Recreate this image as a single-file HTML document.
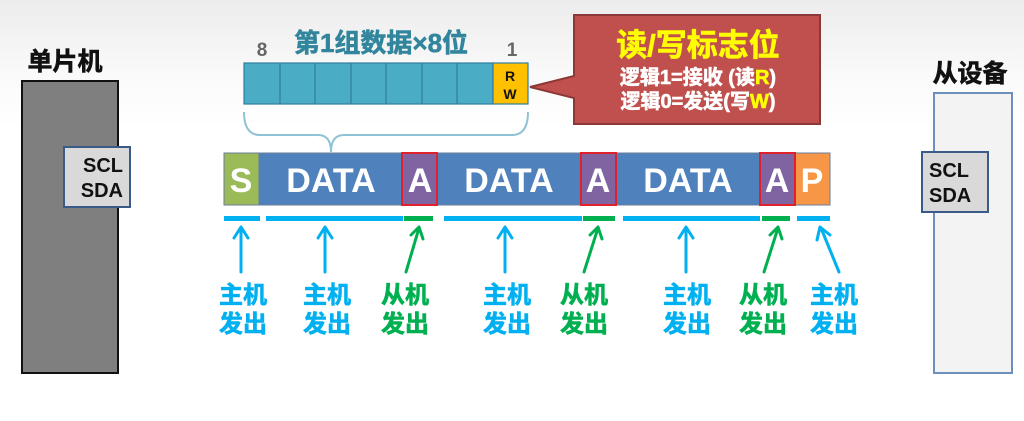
<!DOCTYPE html>
<html><head><meta charset="utf-8"><style>
html,body{margin:0;padding:0;background:#fff}
svg{display:block}
text{font-family:"Liberation Sans","Noto Sans CJK SC",sans-serif;font-weight:bold}
.b{stroke-width:0.6;paint-order:stroke}
</style></head><body>
<svg width="1024" height="421" viewBox="0 0 1024 421" xmlns="http://www.w3.org/2000/svg">
<defs>
<linearGradient id="bg" x1="0" y1="0" x2="0" y2="1">
<stop offset="0" stop-color="#ececec"/><stop offset="0.18" stop-color="#fafafa"/><stop offset="0.3" stop-color="#fff"/>
</linearGradient>
</defs>
<rect width="1024" height="421" fill="url(#bg)"/>
<!-- left device -->
<text class="b" x="65" y="70" font-size="25" text-anchor="middle" fill="#111" stroke="#111">单片机</text>
<rect x="22" y="81" width="96" height="292" fill="#7f7f7f" stroke="#111" stroke-width="2"/>
<rect x="64" y="147" width="66" height="60" fill="#d9d9d9" stroke="#3a5a8a" stroke-width="2"/>
<text x="123" y="172" font-size="20" text-anchor="end" fill="#111">SCL</text>
<text x="123" y="197" font-size="20" text-anchor="end" fill="#111">SDA</text>
<!-- right device -->
<text class="b" x="970" y="82" font-size="25" text-anchor="middle" fill="#111" stroke="#111">从设备</text>
<rect x="934" y="93" width="78" height="280" fill="#f3f3f3" stroke="#6d8fbd" stroke-width="2"/>
<rect x="922" y="152" width="66" height="60" fill="#d9d9d9" stroke="#3a5a8a" stroke-width="2"/>
<text x="929" y="177" font-size="20" fill="#111">SCL</text>
<text x="929" y="202" font-size="20" fill="#111">SDA</text>
<!-- top bits -->
<text class="b" x="381" y="52" font-size="26" text-anchor="middle" fill="#31859c" stroke="#31859c">第1组数据×8位</text>
<text x="262" y="56" font-size="19" text-anchor="middle" fill="#666">8</text>
<text x="512" y="56" font-size="19" text-anchor="middle" fill="#666">1</text>
<g stroke="#2e7f9f" stroke-width="1.2">
<rect x="244" y="63" width="249" height="41" fill="#4bacc6"/>
<rect x="493" y="63" width="35" height="41" fill="#ffc000"/>
<line x1="280" y1="63" x2="280" y2="104"/><line x1="315" y1="63" x2="315" y2="104"/>
<line x1="351" y1="63" x2="351" y2="104"/><line x1="386" y1="63" x2="386" y2="104"/>
<line x1="422" y1="63" x2="422" y2="104"/><line x1="457" y1="63" x2="457" y2="104"/>
</g>
<text x="510" y="81" font-size="14" text-anchor="middle" fill="#111">R</text>
<text x="510" y="99" font-size="14" text-anchor="middle" fill="#111">W</text>
<path d="M244,112 Q244,135 260,135 L318,135 Q331,135 331,152 Q331,135 344,135 L512,135 Q528,135 528,112" fill="none" stroke="#8fc3d3" stroke-width="2"/>
<!-- callout -->
<path d="M574,15 L820,15 L820,124 L574,124 L574,98 L530,87 L574,76 Z" fill="#c0504d" stroke="#8c3836" stroke-width="2"/>
<text class="b" x="698" y="56" font-size="31" text-anchor="middle" fill="#ffff00" stroke="#ffff00">读/写标志位</text>
<text class="b" x="698" y="84" font-size="20" text-anchor="middle" fill="#fff" stroke="#fff">逻辑1=接收 (读<tspan fill="#ffff00" stroke="#ffff00">R</tspan>)</text>
<text class="b" x="698" y="108" font-size="20" text-anchor="middle" fill="#fff" stroke="#fff">逻辑0=发送(写<tspan fill="#ffff00" stroke="#ffff00">W</tspan>)</text>
<!-- frame bar -->
<g stroke="#6a7e99" stroke-width="1">
<rect x="224" y="153" width="35" height="52" fill="#9bbb59"/>
<rect x="259" y="153" width="143" height="52" fill="#4f81bd"/>
<rect x="437" y="153" width="144" height="52" fill="#4f81bd"/>
<rect x="616" y="153" width="144" height="52" fill="#4f81bd"/>
<rect x="795" y="153" width="35" height="52" fill="#f79646"/>
</g>
<g stroke="#e0202a" stroke-width="2" fill="#8064a2">
<rect x="402" y="153" width="35" height="52"/>
<rect x="581" y="153" width="35" height="52"/>
<rect x="760" y="153" width="35" height="52"/>
</g>
<g font-size="34" fill="#fff" text-anchor="middle">
<text x="241" y="192">S</text>
<text x="331" y="192">DATA</text>
<text x="420" y="192">A</text>
<text x="509" y="192">DATA</text>
<text x="598" y="192">A</text>
<text x="688" y="192">DATA</text>
<text x="777" y="192">A</text>
<text x="812" y="192">P</text>
</g>
<!-- underline segments -->
<g fill="#00b0f0">
<rect x="224" y="216" width="36" height="5"/><rect x="266" y="216" width="137" height="5"/>
<rect x="444" y="216" width="138" height="5"/><rect x="623" y="216" width="137" height="5"/>
<rect x="797" y="216" width="33" height="5"/>
</g>
<g fill="#00b050">
<rect x="404" y="216" width="29" height="5"/><rect x="583" y="216" width="32" height="5"/>
<rect x="762" y="216" width="28" height="5"/>
</g>
<!-- arrows -->
<g stroke-width="3" fill="none" stroke-linecap="round" stroke-linejoin="round">
<g stroke="#00b0f0">
<path d="M241,272 L241,228 M234,238 L241,227 L248,238"/>
<path d="M325,272 L325,228 M318,238 L325,227 L332,238"/>
<path d="M505,272 L505,228 M498,238 L505,227 L512,238"/>
<path d="M686,272 L686,228 M679,238 L686,227 L693,238"/>
<path d="M839,272 L821,228 M817,240 L820,227 L830,235"/>
</g>
<g stroke="#00b050">
<path d="M406,272 L419,228 M411,235 L419,227 L423,239"/>
<path d="M584,272 L598,228 M590,235 L598,227 L602,239"/>
<path d="M764,272 L778,228 M770,235 L778,227 L782,239"/>
</g>
</g>
<!-- labels -->
<g font-size="24" text-anchor="middle" class="b">
<g fill="#00b0f0" stroke="#00b0f0">
<text x="243" y="303">主机</text><text x="243" y="332">发出</text>
<text x="327" y="303">主机</text><text x="327" y="332">发出</text>
<text x="507" y="303">主机</text><text x="507" y="332">发出</text>
<text x="687" y="303">主机</text><text x="687" y="332">发出</text>
<text x="834" y="303">主机</text><text x="834" y="332">发出</text>
</g>
<g fill="#00b050" stroke="#00b050">
<text x="405" y="303">从机</text><text x="405" y="332">发出</text>
<text x="584" y="303">从机</text><text x="584" y="332">发出</text>
<text x="763" y="303">从机</text><text x="763" y="332">发出</text>
</g>
</g>
</svg>
</body></html>
